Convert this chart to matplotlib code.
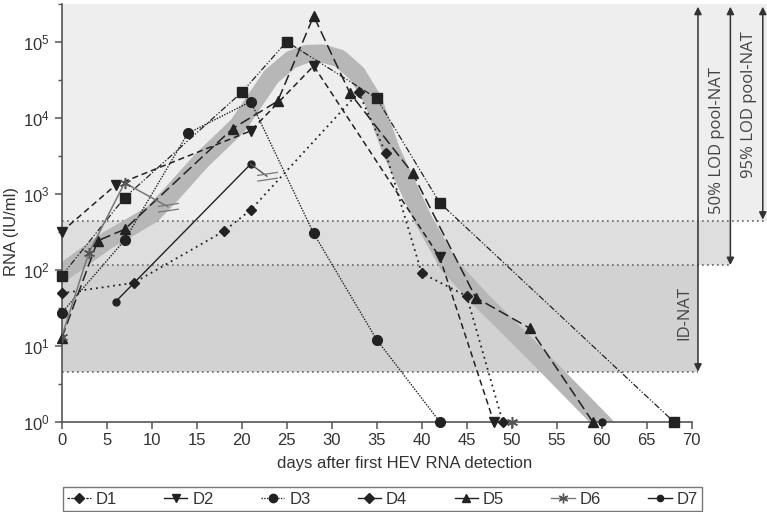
import numpy as np
import matplotlib
matplotlib.use("Agg")
import matplotlib.pyplot as plt
from matplotlib.lines import Line2D
from matplotlib.patches import Rectangle
from matplotlib.path import Path
from matplotlib.ticker import FixedLocator

plt.rcParams["font.family"] = ["Liberation Sans", "DejaVu Sans"]

# ---- data (days, IU/ml) ----
d1_x = [0, 7, 20, 25, 35, 42, 68]
d1_y = [83, 890, 21500, 100000, 18000, 760, 1]

d2_x = [0, 6, 21, 28, 42, 48]
d2_y = [316, 1300, 6700, 48000, 146, 1]

d3_x = [0, 7, 14, 21, 28, 35, 42]
d3_y = [27, 245, 6200, 16300, 300, 12, 1]

d4_x = [0, 8, 18, 21, 33, 36, 40, 45, 49]
d4_y = [49, 67, 320, 610, 21500, 3450, 90, 45, 1]

d5_x = [0, 4, 7, 19, 24, 28, 32, 39, 46, 52, 59]
d5_y = [12.5, 240, 340, 7200, 16500, 218000, 21300, 1850, 43, 17, 1]

d6_x = [0, 3, 7, 11.8]
d6_y = [13, 165, 1390, 675]
d6_late_x = [50]
d6_late_y = [1]

d7_x = [6, 21, 22.8]
d7_y = [38, 2450, 1700]
d7_late_x = [60]
d7_late_y = [1]

# trend band
band_x = [0, 5, 10, 12, 15.5, 19.6, 23.3, 25.5, 27.2, 29.0, 30.9, 32.8, 34.6,
          36.6, 40.2, 43.0, 46.6, 53.0, 60.0, 61.5]
band_y = [90, 240, 530, 930, 2700, 7900, 35000, 58000, 69000, 70000, 60000,
          38000, 17000, 3700, 450, 115, 40, 7, 1.0, 0.65]

# detection limits
lod_95 = 437
lod_50 = 115
lod_id = 4.55

fig = plt.figure(figsize=(7.67, 5.12), dpi=100)
ax = fig.add_axes([0.0804, 0.1764, 0.8214, 0.8164])
ax.set_yscale("log")
ax.set_xlim(0, 70)
ytop = 10 ** 5.5
ax.set_ylim(1, ytop)
ax.set_facecolor("none")

# shaded zones
ax.add_patch(Rectangle((0, lod_95), 78.4, ytop - lod_95, facecolor="#eeeeee",
                       edgecolor="none", clip_on=False, zorder=0))
ax.add_patch(Rectangle((0, lod_50), 74.3, lod_95 - lod_50, facecolor="#dedede",
                       edgecolor="none", clip_on=False, zorder=0))
ax.add_patch(Rectangle((0, lod_id), 70.7, lod_50 - lod_id, facecolor="#d2d2d2",
                       edgecolor="none", clip_on=False, zorder=0))
for yv, xe in [(lod_95, 78.4), (lod_50, 74.3), (lod_id, 70.7)]:
    ax.plot([0, xe], [yv, yv], color="#666666", lw=1.2, ls=(0, (1, 2)),
            clip_on=False, zorder=1)

# trend band
ax.plot(band_x, band_y, color="#b7b7b7", lw=13, solid_capstyle="butt",
        solid_joinstyle="round", zorder=2)

dark = "#222222"
ax.plot(d1_x, d1_y, color=dark, lw=0.9, ls=(0, (5, 1.5, 1, 1.5, 1, 1.5)),
        marker="s", ms=6.5, clip_on=False, zorder=4)
ax.plot(d2_x, d2_y, color=dark, lw=1.1, ls=(0, (4, 2.5)),
        marker="v", ms=7, clip_on=False, zorder=4)
ax.plot(d3_x, d3_y, color=dark, lw=1.0, ls=(0, (1, 1)),
        marker="o", ms=7, clip_on=False, zorder=4)
ax.plot(d4_x, d4_y, color=dark, lw=1.3, ls=(0, (1, 2.2)),
        marker="D", ms=5.5, clip_on=False, zorder=4)
ax.plot(d5_x, d5_y, color=dark, lw=1.1, ls=(0, (7, 3)),
        marker="^", ms=7.5, clip_on=False, zorder=4)

# D6 / D7 with line break symbol
brk = Path([(-1, -0.45), (1, -0.15), (-1, 0.1), (1, 0.4)],
           [Path.MOVETO, Path.LINETO, Path.MOVETO, Path.LINETO])
ax.plot(d6_x, d6_y, color="#777777", lw=1.1, zorder=4)
ax.plot(d6_x[:-1], d6_y[:-1], ls="none", marker=(6, 2, 0), ms=8, mew=1.1,
        color="#555555", zorder=5)
ax.plot(d6_x[-1:], d6_y[-1:], ls="none", marker=brk, ms=15, mew=0.9,
        color="#777777", zorder=5)
ax.plot(d6_late_x, d6_late_y, ls="none", marker=(6, 2, 0), ms=8, mew=1.1,
        color="#555555", clip_on=False, zorder=5)

ax.plot(d7_x[:-1], d7_y[:-1], color=dark, lw=1.0, marker="o", ms=5, zorder=4)
ax.plot(d7_x[1:], d7_y[1:], color="#555555", lw=1.0, zorder=4)
ax.plot(d7_x[-1:], d7_y[-1:], ls="none", marker=brk, ms=15, mew=0.9,
        color="#777777", zorder=5)
ax.plot(d7_late_x, d7_late_y, ls="none", marker="o", ms=5, color=dark,
        clip_on=False, zorder=5)

# range arrows
atop = 10 ** 5.46
for xa, ylo in [(70.7, lod_id), (74.3, lod_50), (77.9, lod_95 * 1.04)]:
    ax.annotate("", xy=(xa, atop), xytext=(xa, ylo), annotation_clip=False,
                arrowprops=dict(arrowstyle="<|-|>", color="#333333", lw=1.1,
                                mutation_scale=11, shrinkA=0, shrinkB=0))
rfont = ["Open Sans", "DejaVu Sans"]
ax.text(70.1, 10 ** 1.43, "ID-NAT", rotation=90, ha="right", va="center",
        fontsize=12, color="#444444", family=rfont)
ax.text(73.7, 10 ** 3.70, "50% LOD pool-NAT", rotation=90, ha="right", va="center",
        fontsize=12, color="#444444", family=rfont)
ax.text(77.3, 10 ** 4.17, "95% LOD pool-NAT", rotation=90, ha="right", va="center",
        fontsize=12, color="#444444", family=rfont)

# axes styling
for s in ["top", "right"]:
    ax.spines[s].set_visible(False)
for s in ["left", "bottom"]:
    ax.spines[s].set_color("#555555")
    ax.spines[s].set_linewidth(1.2)
ax.set_xticks(np.arange(0, 71, 5))
ax.set_yticks([1, 10, 100, 1e3, 1e4, 1e5])
ax.yaxis.set_minor_locator(FixedLocator([10 ** (k + 0.5) for k in range(6)]))
ax.tick_params(axis="both", which="major", length=5, width=1.1, color="#555555",
               labelsize=12, labelcolor="#333333")
ax.tick_params(axis="y", which="minor", length=3, width=1, color="#555555")
ax.set_xlabel("days after first HEV RNA detection", fontsize=12, color="#333333")
ax.xaxis.set_label_coords(0.545, -0.082)
ax.set_ylabel("RNA (IU/ml)", fontsize=12, color="#333333")
ax.yaxis.set_label_coords(-0.068, 0.454)

# legend
handles = [
    Line2D([], [], color=dark, lw=0.9, ls=(0, (2, 1)), marker="D", ms=5.5),
    Line2D([], [], color=dark, lw=1.0, marker="v", ms=6),
    Line2D([], [], color=dark, lw=1.0, ls=(0, (1, 1)), marker="o", ms=6),
    Line2D([], [], color=dark, lw=1.0, marker="D", ms=5.5),
    Line2D([], [], color=dark, lw=1.0, marker="^", ms=6),
    Line2D([], [], color="#777777", lw=1.0, marker=(6, 2, 0), ms=7, mec="#555555"),
    Line2D([], [], color=dark, lw=1.0, marker="o", ms=4.5),
]
labels = ["D1", "D2", "D3", "D4", "D5", "D6", "D7"]
leg = fig.legend(handles, labels, loc="center", ncol=7, mode="expand",
                 bbox_to_anchor=(63 / 767, 1 - 511 / 512, 639 / 767, 24 / 512),
                 fontsize=12, frameon=True, fancybox=False, handlelength=1.4,
                 handletextpad=0.3, borderpad=0.25, borderaxespad=0)
leg.get_frame().set_edgecolor("#555555")
leg.get_frame().set_linewidth(1.0)
for t in leg.get_texts():
    t.set_color("#333333")

fig.savefig("out.png", dpi=100, facecolor="white")
